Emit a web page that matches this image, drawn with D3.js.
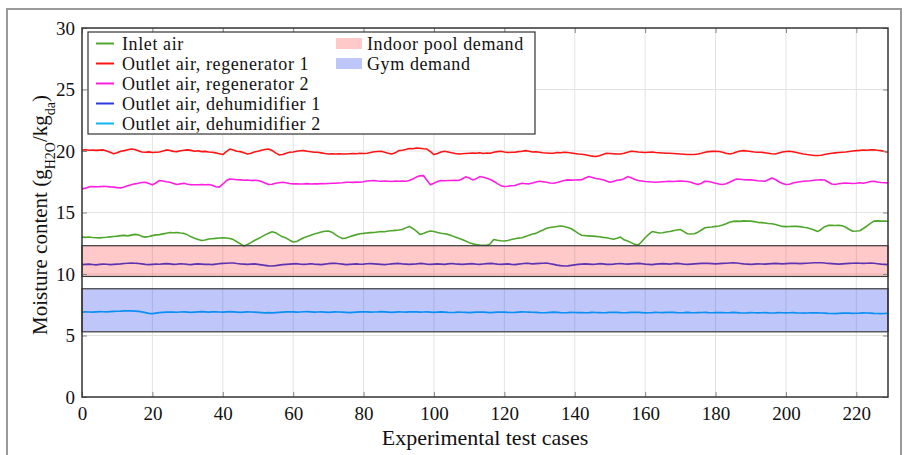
<!DOCTYPE html>
<html>
<head>
<meta charset="utf-8">
<script src="https://cdn.jsdelivr.net/npm/d3@7"></script>
<style>
  body { margin: 0; background: #fff; }
  svg { display: block; }
  text { font-family: "Liberation Serif", "Times New Roman", serif; fill: #111; }
</style>
</head>
<body>
<svg id="chart" width="905" height="455"></svg>
<script>
// DATA

// experimental test cases 0..229 (one reading per case)
const testCases = d3.range(0, 230);

const inletAir = [
  13.00, 12.98, 13.01, 12.97, 12.95, 12.94, 12.97, 12.99, 13.02, 13.05,
  13.08, 13.12, 13.14, 13.10, 13.16, 13.22, 13.18, 13.06, 13.00, 13.05,
  13.12, 13.18, 13.20, 13.26, 13.32, 13.38, 13.35, 13.37, 13.33, 13.30,
  13.18, 13.02, 12.90, 12.80, 12.73, 12.76, 12.84, 12.87, 12.90, 12.93,
  12.95, 12.93, 12.88, 12.80, 12.62, 12.45, 12.28, 12.40, 12.55, 12.72,
  12.87, 13.02, 13.18, 13.32, 13.43, 13.36, 13.18, 13.02, 12.92, 12.75,
  12.60, 12.64, 12.80, 12.95, 13.05, 13.15, 13.25, 13.33, 13.42, 13.48,
  13.50, 13.40, 13.20, 13.02, 12.88, 12.92, 13.02, 13.12, 13.20, 13.27,
  13.30, 13.34, 13.36, 13.38, 13.42, 13.45, 13.44, 13.49, 13.52, 13.55,
  13.58, 13.62, 13.75, 13.87, 13.70, 13.48, 13.22, 13.30, 13.42, 13.49,
  13.45, 13.38, 13.32, 13.27, 13.22, 13.12, 13.00, 12.90, 12.80, 12.68,
  12.55, 12.45, 12.40, 12.36, 12.34, 12.33, 12.45, 12.80, 12.74, 12.70,
  12.68, 12.72, 12.80, 12.86, 12.92, 12.95, 13.05, 13.15, 13.25, 13.30,
  13.45, 13.58, 13.72, 13.78, 13.82, 13.86, 13.90, 13.86, 13.78, 13.68,
  13.50, 13.30, 13.15, 13.12, 13.10, 13.08, 13.06, 13.03, 12.98, 12.95,
  12.88, 12.82, 12.90, 13.00, 12.78, 12.68, 12.55, 12.42, 12.35, 12.62,
  12.95, 13.22, 13.45, 13.40, 13.33, 13.35, 13.41, 13.45, 13.52, 13.58,
  13.62, 13.45, 13.27, 13.25, 13.27, 13.40, 13.58, 13.76, 13.80, 13.82,
  13.87, 13.90, 13.98, 14.08, 14.20, 14.28, 14.30, 14.28, 14.32, 14.30,
  14.30, 14.26, 14.20, 14.18, 14.15, 14.10, 14.08, 14.02, 13.95, 13.87,
  13.85, 13.86, 13.88, 13.87, 13.85, 13.80, 13.76, 13.68, 13.58, 13.45,
  13.62, 13.85, 13.95, 13.96, 13.94, 13.95, 13.92, 13.80, 13.62, 13.47,
  13.49, 13.52, 13.70, 13.90, 14.12, 14.30, 14.32, 14.30, 14.31, 14.29
];

const outletReg1 = [
  20.08, 20.10, 20.06, 20.08, 20.05, 20.07, 20.09, 20.00, 19.90, 19.78,
  19.85, 19.98, 20.03, 20.10, 20.16, 20.12, 20.02, 19.92, 19.90, 19.93,
  19.88, 19.90, 19.92, 20.00, 20.09, 20.04, 19.97, 19.95, 20.02, 20.06,
  20.09, 20.05, 19.98, 20.02, 19.95, 19.97, 19.92, 19.90, 19.85, 19.78,
  19.71, 19.95, 20.16, 20.08, 19.98, 19.95, 19.86, 19.76, 19.82, 19.92,
  19.98, 20.06, 20.12, 20.16, 20.05, 19.85, 19.68, 19.72, 19.82, 19.90,
  19.92, 19.98, 20.02, 20.03, 19.98, 19.94, 19.90, 19.90, 19.85, 19.80,
  19.76, 19.78, 19.75, 19.77, 19.76, 19.76, 19.78, 19.80, 19.78, 19.82,
  19.80, 19.82, 19.88, 19.94, 19.96, 19.98, 19.90, 19.82, 19.76, 19.85,
  20.03, 20.06, 20.12, 20.20, 20.18, 20.25, 20.22, 20.18, 20.16, 19.95,
  19.71, 19.80, 19.92, 19.98, 19.92, 19.86, 19.80, 19.76, 19.78, 19.80,
  19.82, 19.84, 19.82, 19.86, 19.80, 19.84, 19.82, 19.90, 19.95, 19.98,
  19.92, 19.88, 19.90, 19.90, 19.95, 19.98, 20.03, 19.98, 19.92, 19.94,
  19.90, 19.86, 19.84, 19.82, 19.82, 19.88, 19.86, 19.90, 19.88, 19.84,
  19.80, 19.76, 19.74, 19.70, 19.64, 19.58, 19.55, 19.62, 19.72, 19.82,
  19.80, 19.78, 19.76, 19.76, 19.82, 19.90, 19.98, 19.96, 19.92, 19.90,
  19.88, 19.90, 19.92, 19.88, 19.86, 19.84, 19.82, 19.82, 19.80, 19.78,
  19.76, 19.74, 19.72, 19.71, 19.71, 19.76, 19.82, 19.90, 19.95, 19.97,
  19.98, 19.96, 19.90, 19.82, 19.76, 19.82, 19.92, 20.00, 20.03, 20.00,
  19.96, 19.92, 19.90, 19.90, 19.86, 19.82, 19.78, 19.76, 19.84, 19.92,
  19.96, 19.98, 19.94, 19.88, 19.82, 19.76, 19.71, 19.68, 19.64, 19.63,
  19.66, 19.72, 19.78, 19.82, 19.85, 19.88, 19.90, 19.92, 19.96, 20.00,
  20.03, 20.05, 20.08, 20.06, 20.09, 20.10, 20.06, 20.03, 19.96, 19.90
];

const outletReg2 = [
  16.92, 16.98, 17.08, 17.11, 17.09, 17.10, 17.12, 17.11, 17.08, 17.06,
  17.02, 17.00, 17.08, 17.18, 17.26, 17.33, 17.38, 17.44, 17.46, 17.36,
  17.25, 17.40, 17.60, 17.56, 17.50, 17.46, 17.36, 17.27, 17.33, 17.38,
  17.30, 17.26, 17.25, 17.26, 17.27, 17.26, 17.27, 17.22, 17.10, 17.06,
  17.30, 17.58, 17.73, 17.70, 17.66, 17.65, 17.62, 17.64, 17.60, 17.62,
  17.60, 17.52, 17.40, 17.27, 17.30, 17.38, 17.42, 17.46, 17.42, 17.36,
  17.33, 17.34, 17.32, 17.33, 17.35, 17.32, 17.33, 17.33, 17.36, 17.34,
  17.36, 17.38, 17.38, 17.40, 17.42, 17.46, 17.46, 17.45, 17.47, 17.46,
  17.50, 17.56, 17.58, 17.60, 17.56, 17.54, 17.55, 17.54, 17.52, 17.56,
  17.54, 17.55, 17.54, 17.60, 17.72, 17.88, 17.98, 18.00, 17.62, 17.25,
  17.38, 17.52, 17.60, 17.58, 17.60, 17.60, 17.62, 17.60, 17.72, 17.90,
  17.80, 17.65, 17.75, 17.92, 17.86, 17.78, 17.68, 17.54, 17.35, 17.18,
  17.11, 17.14, 17.18, 17.19, 17.30, 17.38, 17.34, 17.33, 17.40, 17.48,
  17.54, 17.50, 17.46, 17.40, 17.38, 17.44, 17.52, 17.60, 17.65, 17.63,
  17.64, 17.65, 17.66, 17.80, 17.92, 17.84, 17.76, 17.73, 17.66, 17.56,
  17.46, 17.52, 17.62, 17.65, 17.74, 17.92, 17.82, 17.70, 17.60, 17.56,
  17.52, 17.50, 17.48, 17.46, 17.48, 17.50, 17.52, 17.54, 17.52, 17.54,
  17.55, 17.54, 17.52, 17.46, 17.36, 17.27, 17.38, 17.54, 17.52, 17.46,
  17.38, 17.32, 17.27, 17.34, 17.46, 17.60, 17.73, 17.70, 17.66, 17.65,
  17.65, 17.62, 17.58, 17.56, 17.54, 17.66, 17.81, 17.68, 17.50, 17.36,
  17.27, 17.30, 17.40, 17.46, 17.50, 17.54, 17.56, 17.58, 17.62, 17.64,
  17.65, 17.64, 17.48, 17.32, 17.27, 17.34, 17.38, 17.40, 17.38, 17.36,
  17.38, 17.42, 17.38, 17.44, 17.52, 17.54, 17.48, 17.44, 17.42, 17.41
];

const outletDehum1 = [
  10.76, 10.78, 10.80, 10.77, 10.74, 10.78, 10.80, 10.79, 10.76, 10.78,
  10.80, 10.82, 10.85, 10.88, 10.89, 10.88, 10.86, 10.82, 10.78, 10.76,
  10.78, 10.80, 10.79, 10.82, 10.84, 10.82, 10.78, 10.80, 10.83, 10.81,
  10.78, 10.76, 10.80, 10.82, 10.80, 10.78, 10.79, 10.76, 10.80, 10.84,
  10.86, 10.88, 10.90, 10.89, 10.85, 10.82, 10.80, 10.78, 10.80, 10.82,
  10.78, 10.74, 10.70, 10.66, 10.65, 10.68, 10.72, 10.76, 10.78, 10.80,
  10.82, 10.84, 10.80, 10.78, 10.80, 10.83, 10.80, 10.78, 10.76, 10.80,
  10.84, 10.86, 10.88, 10.84, 10.80, 10.76, 10.78, 10.80, 10.82, 10.79,
  10.80, 10.83, 10.84, 10.82, 10.80, 10.78, 10.76, 10.79, 10.82, 10.84,
  10.86, 10.82, 10.80, 10.78, 10.80, 10.82, 10.86, 10.84, 10.80, 10.78,
  10.80, 10.82, 10.80, 10.78, 10.82, 10.85, 10.82, 10.80, 10.78, 10.80,
  10.82, 10.84, 10.80, 10.78, 10.81, 10.84, 10.86, 10.84, 10.80, 10.78,
  10.80, 10.82, 10.78, 10.76, 10.80, 10.84, 10.88, 10.86, 10.82, 10.84,
  10.86, 10.88, 10.89, 10.84, 10.78, 10.72, 10.68, 10.65, 10.66, 10.70,
  10.74, 10.78, 10.80, 10.82, 10.80, 10.78, 10.80, 10.84, 10.82, 10.78,
  10.78, 10.80, 10.83, 10.85, 10.82, 10.80, 10.82, 10.84, 10.86, 10.84,
  10.80, 10.78, 10.76, 10.80, 10.82, 10.84, 10.82, 10.80, 10.84, 10.86,
  10.84, 10.80, 10.78, 10.80, 10.82, 10.84, 10.86, 10.88, 10.86, 10.84,
  10.82, 10.84, 10.86, 10.88, 10.90, 10.92, 10.90, 10.86, 10.82, 10.80,
  10.78, 10.80, 10.82, 10.81, 10.80, 10.82, 10.84, 10.86, 10.84, 10.82,
  10.84, 10.86, 10.88, 10.86, 10.84, 10.86, 10.88, 10.90, 10.91, 10.92,
  10.92, 10.90, 10.86, 10.84, 10.82, 10.80, 10.82, 10.84, 10.86, 10.88,
  10.90, 10.88, 10.86, 10.88, 10.90, 10.88, 10.84, 10.80, 10.78, 10.76
];

const outletDehum2 = [
  6.90, 6.92, 6.91, 6.90, 6.92, 6.94, 6.93, 6.92, 6.94, 6.96,
  6.97, 6.98, 7.00, 7.01, 7.00, 6.98, 6.96, 6.92, 6.86, 6.80,
  6.78, 6.82, 6.86, 6.88, 6.90, 6.91, 6.90, 6.89, 6.91, 6.92,
  6.90, 6.88, 6.90, 6.92, 6.94, 6.92, 6.90, 6.92, 6.93, 6.91,
  6.90, 6.92, 6.94, 6.92, 6.90, 6.88, 6.90, 6.92, 6.91, 6.90,
  6.88, 6.86, 6.84, 6.86, 6.84, 6.86, 6.88, 6.90, 6.92, 6.93,
  6.92, 6.90, 6.91, 6.93, 6.94, 6.92, 6.90, 6.91, 6.92, 6.90,
  6.88, 6.90, 6.92, 6.91, 6.90, 6.88, 6.86, 6.88, 6.90, 6.92,
  6.93, 6.92, 6.90, 6.91, 6.92, 6.94, 6.92, 6.90, 6.88, 6.90,
  6.92, 6.91, 6.90, 6.92, 6.93, 6.92, 6.90, 6.91, 6.92, 6.90,
  6.88, 6.90, 6.92, 6.90, 6.88, 6.87, 6.88, 6.90, 6.89, 6.88,
  6.86, 6.88, 6.90, 6.91, 6.90, 6.88, 6.86, 6.88, 6.90, 6.91,
  6.90, 6.88, 6.87, 6.88, 6.90, 6.92, 6.91, 6.90, 6.89, 6.88,
  6.86, 6.85, 6.86, 6.88, 6.90, 6.88, 6.86, 6.85, 6.86, 6.88,
  6.87, 6.86, 6.86, 6.85, 6.86, 6.88, 6.87, 6.86, 6.85, 6.86,
  6.88, 6.89, 6.88, 6.86, 6.85, 6.86, 6.88, 6.89, 6.88, 6.86,
  6.84, 6.85, 6.86, 6.88, 6.87, 6.86, 6.88, 6.89, 6.88, 6.86,
  6.85, 6.86, 6.88, 6.86, 6.85, 6.86, 6.87, 6.88, 6.86, 6.85,
  6.86, 6.87, 6.86, 6.85, 6.86, 6.88, 6.86, 6.84, 6.83, 6.84,
  6.86, 6.85, 6.84, 6.85, 6.86, 6.84, 6.83, 6.84, 6.86, 6.85,
  6.84, 6.85, 6.86, 6.84, 6.83, 6.82, 6.83, 6.84, 6.85, 6.84,
  6.83, 6.82, 6.80, 6.79, 6.78, 6.80, 6.82, 6.83, 6.82, 6.80,
  6.81, 6.82, 6.84, 6.83, 6.82, 6.80, 6.79, 6.78, 6.79, 6.80
];

// demand ranges [low, high]
const poolDemand = [9.8, 12.3];
const gymDemand = [5.3, 8.8];

const seriesNames = [
  "Inlet air",
  "Outlet air, regenerator 1",
  "Outlet air, regenerator 2",
  "Outlet air, dehumidifier 1",
  "Outlet air, dehumidifier 2"
];
const seriesValues = [inletAir, outletReg1, outletReg2, outletDehum1, outletDehum2];
const seriesColors = ["#4ea62c", "#ff1414", "#ff1ee0", "#2b3be0", "#0fb4f5"];

const bandNames = ["Indoor pool demand", "Gym demand"];
const bandRanges = [poolDemand, gymDemand];
const bandColors = ["rgba(255, 30, 30, 0.24)", "rgba(0, 30, 235, 0.25)"];

const xTicks = [0, 20, 40, 60, 80, 100, 120, 140, 160, 180, 200, 220];
const yTicks = [0, 5, 10, 15, 20, 25, 30];


// CHART

const svg = d3.select("#chart");

const plotLeft = 82, plotRight = 888, plotTop = 28, plotBottom = 397;

const x = d3.scaleLinear().domain([0, 229]).range([plotLeft, plotRight]);
const y = d3.scaleLinear().domain([0, 30]).range([plotBottom, plotTop]);

// outer figure frame
svg.append("rect")
  .attr("x", 7).attr("y", 9)
  .attr("width", 894).attr("height", 470)
  .attr("fill", "none")
  .attr("stroke", "#9a9a9a")
  .attr("stroke-width", 2);

// grid
svg.append("g")
  .selectAll("line")
  .data(xTicks.filter(d => d > 0))
  .enter()
  .append("line")
  .attr("x1", d => x(d)).attr("x2", d => x(d))
  .attr("y1", plotTop).attr("y2", plotBottom)
  .attr("stroke", "#e3e3e3");

svg.append("g")
  .selectAll("line")
  .data(yTicks.filter(d => d > 0 && d < 30))
  .enter()
  .append("line")
  .attr("x1", plotLeft).attr("x2", plotRight)
  .attr("y1", d => y(d)).attr("y2", d => y(d))
  .attr("stroke", "#e3e3e3");

// series lines
const line = d3.line()
  .x((d, i) => x(testCases[i]))
  .y(d => y(d));

svg.append("g")
  .selectAll("path")
  .data(seriesValues)
  .enter()
  .append("path")
  .attr("d", line)
  .attr("fill", "none")
  .attr("stroke", (d, i) => seriesColors[i])
  .attr("stroke-width", 1.6)
  .attr("stroke-linejoin", "round");

// demand bands, drawn over the lines with transparency
svg.append("g")
  .selectAll("rect")
  .data(bandRanges)
  .enter()
  .append("rect")
  .attr("x", plotLeft)
  .attr("y", d => y(d[1]))
  .attr("width", plotRight - plotLeft)
  .attr("height", d => y(d[0]) - y(d[1]))
  .attr("fill", (d, i) => bandColors[i])
  .attr("stroke", "#3a3a3a")
  .attr("stroke-width", 1.2);

// axes with inward ticks
const axisFont = "19px";

svg.append("g")
  .attr("transform", `translate(0, ${plotBottom})`)
  .call(d3.axisBottom(x).tickValues(xTicks).tickSizeInner(-5).tickSizeOuter(0).tickPadding(10));

svg.append("g")
  .attr("transform", `translate(${plotLeft}, 0)`)
  .call(d3.axisLeft(y).tickValues(yTicks).tickSizeInner(-5).tickSizeOuter(0).tickPadding(7));

svg.append("g")
  .attr("transform", `translate(0, ${plotTop})`)
  .call(d3.axisTop(x).tickValues(xTicks).tickSizeInner(-5).tickSizeOuter(0).tickFormat(""));

svg.append("g")
  .attr("transform", `translate(${plotRight}, 0)`)
  .call(d3.axisRight(y).tickValues(yTicks).tickSizeInner(-5).tickSizeOuter(0).tickFormat(""));

svg.selectAll(".domain").remove();
svg.selectAll(".tick line").attr("stroke", "#888");
svg.selectAll(".tick text")
  .attr("font-family", null)
  .style("font-size", axisFont)
  .attr("fill", "#111");

// plot frame
svg.append("rect")
  .attr("x", plotLeft).attr("y", plotTop)
  .attr("width", plotRight - plotLeft).attr("height", plotBottom - plotTop)
  .attr("fill", "none")
  .attr("stroke", "#333")
  .attr("stroke-width", 1.5);

// axis titles
svg.append("text")
  .attr("x", 485)
  .attr("y", 445)
  .attr("text-anchor", "middle")
  .style("font-size", "22px")
  .text("Experimental test cases");

const yTitle = svg.append("text")
  .attr("transform", `translate(47, 215) rotate(-90)`)
  .attr("text-anchor", "middle")
  .style("font-size", "21px");
yTitle.append("tspan").text("Moisture content (g");
yTitle.append("tspan").attr("baseline-shift", "sub").style("font-size", "14px").text("H2O");
yTitle.append("tspan").text("/kg");
yTitle.append("tspan").attr("baseline-shift", "sub").style("font-size", "14px").text("da");
yTitle.append("tspan").text(")");

// legend
const legendFont = "18px";
const legend = svg.append("g");
legend.append("rect")
  .attr("x", 88).attr("y", 32)
  .attr("width", 447).attr("height", 102)
  .attr("fill", "#fff")
  .attr("stroke", "#333")
  .attr("stroke-width", 1.2);

const rowY = i => 43.5 + i * 20;

const lineItems = legend.selectAll("g.line-item")
  .data(seriesNames)
  .enter()
  .append("g")
  .attr("class", "line-item");

lineItems.append("line")
  .attr("x1", 96).attr("x2", 114)
  .attr("y1", (d, i) => rowY(i)).attr("y2", (d, i) => rowY(i))
  .attr("stroke", (d, i) => seriesColors[i])
  .attr("stroke-width", 2);

lineItems.append("text")
  .attr("x", 122)
  .attr("y", (d, i) => rowY(i))
  .attr("dy", "0.34em")
  .attr("letter-spacing", "0.6px")
  .style("font-size", legendFont)
  .text(d => d);

const bandItems = legend.selectAll("g.band-item")
  .data(bandNames)
  .enter()
  .append("g")
  .attr("class", "band-item");

bandItems.append("rect")
  .attr("x", 336).attr("width", 26)
  .attr("y", (d, i) => rowY(i) - 5.5).attr("height", 11)
  .attr("fill", (d, i) => bandColors[i]);

bandItems.append("text")
  .attr("x", 367)
  .attr("y", (d, i) => rowY(i))
  .attr("dy", "0.34em")
  .attr("letter-spacing", "0.6px")
  .style("font-size", legendFont)
  .text(d => d);
</script>
</body>
</html>
